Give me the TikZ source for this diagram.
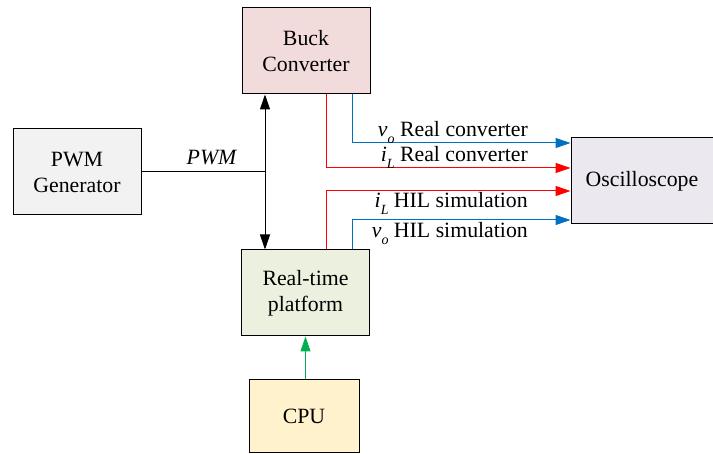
\documentclass[tikz,border=0pt]{standalone}
\usepackage{fontspec}
\setmainfont{LiberationSerif}[Extension=.ttf,UprightFont=*-Regular,ItalicFont=*-Italic,BoldFont=*-Bold,BoldItalicFont=*-BoldItalic]
\usetikzlibrary{arrows.meta}
\definecolor{buckc}{HTML}{F2DCDB}
\definecolor{pwmc}{HTML}{F2F2F2}
\definecolor{rtc}{HTML}{EBF1DE}
\definecolor{cpuc}{HTML}{FFF2CC}
\definecolor{oscc}{HTML}{EBE8F0}
\definecolor{myblue}{HTML}{0070C0}
\definecolor{myred}{HTML}{FF0000}
\definecolor{mygreen}{HTML}{00B050}
\newcommand\mysub[1]{\raisebox{-0.28em}{\fontsize{14}{14}\selectfont\textit{#1}}}
\begin{document}
\begin{tikzpicture}[x=1pt,y=-1pt,
  every node/.style={font=\rmfamily\fontsize{21.8}{26}\selectfont},
  blockbox/.style={draw=black,line width=1pt,align=center,inner sep=0pt},
  conn/.style={line width=1pt},
  tip/.style={-{Triangle[length=15pt,width=10pt]}},
  lbl/.style={anchor=base east,inner sep=0pt}]
\useasboundingbox (0,0) rectangle (713,454);
\node[blockbox,fill=buckc,minimum width=128pt,minimum height=86pt] (buck) at (306,51) {Buck\\Converter};
\node[blockbox,fill=pwmc,minimum width=128pt,minimum height=86pt] (pwm) at (77,172) {PWM\\Generator};
\node[blockbox,fill=rtc,minimum width=128pt,minimum height=86pt] (rt) at (305.5,293) {Real-time\\platform};
\node[blockbox,fill=cpuc,minimum width=110pt,minimum height=73pt] (cpu) at (304,416.5) {CPU};
\node[blockbox,fill=oscc,minimum width=142pt,minimum height=86pt] (osc) at (642,181) {Oscilloscope};
% PWM connection
\coordinate (j) at (265,172);
\draw[conn,{Triangle[length=15pt,width=10pt]}-{Triangle[length=15pt,width=10pt]}] (buck.south -| j) -- (rt.north -| j);
\draw[conn] (pwm.east |- j) -- (j);
\node[anchor=base,inner sep=0pt] (pwmlbl) at (212,165) {\textit{PWM}};
% signals
\coordinate (a1) at (352,143);
\coordinate (a2) at (326,168);
\coordinate (a3) at (326,191);
\coordinate (a4) at (352,220);
\draw[conn,tip,draw=myblue] (buck.south -| a1) -- (a1) -- (osc.west |- a1);
\draw[conn,tip,draw=myred] (buck.south -| a2) -- (a2) -- (osc.west |- a2);
\draw[conn,tip,draw=myred] (rt.north -| a3) -- (a3) -- (osc.west |- a3);
\draw[conn,tip,draw=myblue] (rt.north -| a4) -- (a4) -- (osc.west |- a4);
\node[lbl] (l1) at (528,137) {\textit{v}\mysub{o} Real converter};
\node[lbl] (l2) at (528,162) {\textit{i}\mysub{L} Real converter};
\node[lbl] (l3) at (528,208) {\textit{i}\mysub{L} HIL simulation};
\node[lbl] (l4) at (528,238) {\textit{v}\mysub{o} HIL simulation};
% CPU
\draw[conn,tip,draw=mygreen] (cpu.north -| rt.south) -- (rt.south);
\end{tikzpicture}
\end{document}
